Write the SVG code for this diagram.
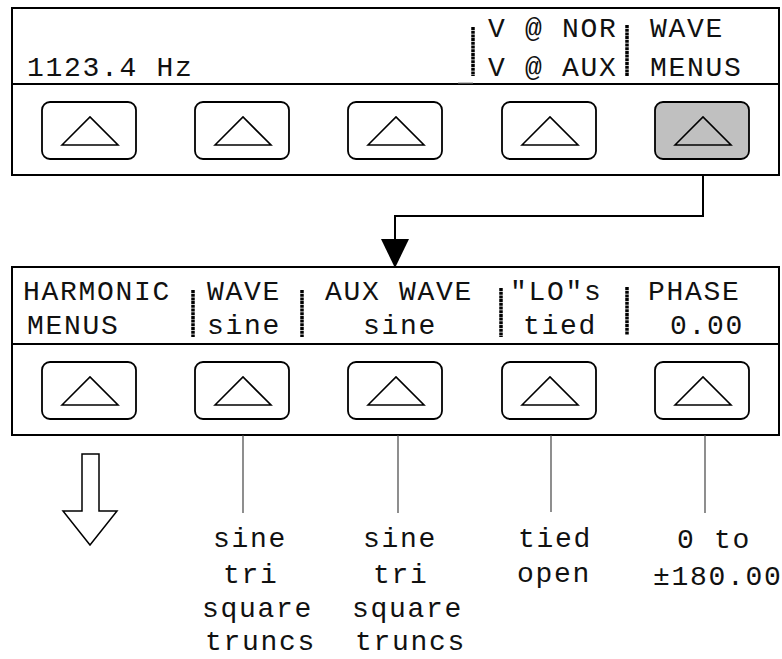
<svg xmlns="http://www.w3.org/2000/svg" width="782" height="659" viewBox="0 0 782 659">
<style>
.panel{fill:#fff;stroke:#000;stroke-width:2}
.div{stroke:#000;stroke-width:2}
.btn{fill:#fff;stroke:#000;stroke-width:1.8}
.btn.on{fill:#c0c0c0}
.tri{fill:none;stroke:#000;stroke-width:1.6;stroke-linejoin:miter}
.lcd{font-family:"Liberation Mono","DejaVu Sans Mono",monospace;font-size:28px;letter-spacing:1.7px;fill:#111}
.sep{stroke:#000;stroke-width:3.5;stroke-dasharray:3 0.7}
.lead{stroke:#444;stroke-width:1.2}
.conn{fill:none;stroke:#000;stroke-width:2}
</style>
<defs>
<g id="button">
<rect class="btn" x="0" y="0" width="94" height="57" rx="8"/>
<path class="tri" d="M20 43 L48 15 L76 43 Z"/>
</g>
<g id="buttonOn">
<rect class="btn on" x="0" y="0" width="94" height="57" rx="8"/>
<path class="tri" d="M20 43 L48 15 L76 43 Z"/>
</g>
</defs>

<g id="panel-top">
<rect class="panel" x="12" y="8" width="767" height="167"/>
<line class="div" x1="12" y1="84" x2="779" y2="84"/>
<text class="lcd" x="27" y="76">1123.4 Hz</text>
<line class="sep" x1="473" y1="27" x2="473" y2="76"/>
<text class="lcd" x="488" y="37">V @ NOR</text>
<text class="lcd" x="488" y="76">V @ AUX</text>
<line class="sep" x1="627" y1="25" x2="627" y2="76"/>
<text class="lcd" x="650" y="37">WAVE</text>
<text class="lcd" x="650" y="76">MENUS</text>
<line x1="458" y1="83" x2="473" y2="83" stroke="#888" stroke-width="1"/>
<use href="#button" x="42" y="102"/>
<use href="#button" x="195" y="102"/>
<use href="#button" x="348" y="102"/>
<use href="#button" x="502" y="102"/>
<use href="#buttonOn" x="655" y="102"/>
</g>

<g id="panel-wave">
<rect class="panel" x="12" y="267" width="767" height="168"/>
<line class="div" x1="12" y1="344" x2="779" y2="344"/>
<text class="lcd" x="23" y="300">HARMONIC</text>
<text class="lcd" x="27" y="334">MENUS</text>
<line class="sep" x1="193" y1="290" x2="193" y2="337"/>
<text class="lcd" x="207" y="300">WAVE</text>
<text class="lcd" x="207" y="334">sine</text>
<line class="sep" x1="302" y1="290" x2="302" y2="337"/>
<text class="lcd" x="325" y="300">AUX WAVE</text>
<text class="lcd" x="363" y="334">sine</text>
<line class="sep" x1="501" y1="288" x2="501" y2="337"/>
<text class="lcd" x="510" y="300">"LO"s</text>
<text class="lcd" x="523" y="334">tied</text>
<line class="sep" x1="627" y1="287" x2="627" y2="335"/>
<text class="lcd" x="648" y="300">PHASE</text>
<text class="lcd" x="670" y="334">0.00</text>
<use href="#button" x="42" y="362"/>
<use href="#button" x="195" y="362"/>
<use href="#button" x="348" y="362"/>
<use href="#button" x="502" y="362"/>
<use href="#button" x="655" y="362"/>
</g>

<g id="connectors">
<polyline class="conn" points="703,175 703,216 395,216 395,240"/>
<path d="M381 239 L409 239 L395 268 Z" fill="#000"/>
<line class="lead" x1="243" y1="435" x2="243" y2="513"/>
<line class="lead" x1="398" y1="435" x2="398" y2="513"/>
<line class="lead" x1="551" y1="435" x2="551" y2="512"/>
<line class="lead" x1="705" y1="435" x2="705" y2="513"/>
<path d="M82 454 L99 454 L99 511 L117 511 L90 545 L63 511 L82 511 Z" fill="#fff" stroke="#000" stroke-width="1.5"/>
</g>

<g id="options-wave">
<text class="lcd" x="213" y="547">sine</text>
<text class="lcd" x="223" y="583">tri</text>
<text class="lcd" x="202" y="617">square</text>
<text class="lcd" x="205" y="650">truncs</text>
</g>
<g id="options-aux">
<text class="lcd" x="363" y="547">sine</text>
<text class="lcd" x="373" y="583">tri</text>
<text class="lcd" x="352" y="617">square</text>
<text class="lcd" x="355" y="650">truncs</text>
</g>
<g id="options-lo">
<text class="lcd" x="518" y="547">tied</text>
<text class="lcd" x="517" y="582">open</text>
</g>
<g id="options-phase">
<text class="lcd" x="677" y="548">0 to</text>
<text class="lcd" x="653" y="585">±180.00</text>
</g>
</svg>
